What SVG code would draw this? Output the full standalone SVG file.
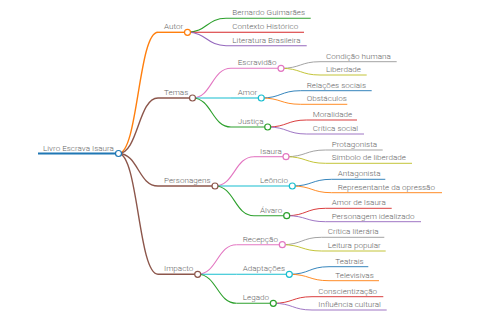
<svg xmlns="http://www.w3.org/2000/svg" width="480" height="320" viewBox="0 0 480 320">
<style>
text{font-family:Roboto,"Liberation Sans",sans-serif;font-size:8.1px;fill:#666;font-weight:300}
path{fill:none}
.l0{stroke-width:1.8}
.l1{stroke-width:1.4}
.l2{stroke-width:1.1}
.l3{stroke-width:0.9}
circle{fill:#fff;stroke-width:1.2}
.blue{stroke:#1f77b4}.orange{stroke:#ff7f0e}.green{stroke:#2ca02c}.red{stroke:#d62728}.purple{stroke:#9467bd}.brown{stroke:#8c564b}.pink{stroke:#e377c2}.gray{stroke:#999}.olive{stroke:#bcbd22}.cyan{stroke:#17becf}
</style>
<rect width="480" height="320" fill="#fff"/>
<g id="connectors">
<path class="l1 orange" d="M118.5 153.5C138.25 153.5 138.25 32.3 158 32.3"/>
<path class="l1 brown" d="M118.5 153.5C138.25 153.5 138.25 98 158 98"/>
<path class="l1 brown" d="M118.5 153.5C138.25 153.5 138.25 186 158 186"/>
<path class="l1 brown" d="M118.5 153.5C138.25 153.5 138.25 274.3 158 274.3"/>
<path class="l2 green" d="M187.5 32.3C206.75 32.3 206.75 18.3 226 18.3"/>
<path class="l2 red" d="M187.5 32.3C206.75 32.3 206.75 32.3 226 32.3"/>
<path class="l2 purple" d="M187.5 32.3C206.75 32.3 206.75 45.7 226 45.7"/>
<path class="l2 pink" d="M192.5 98C211.75 98 211.75 68.3 231 68.3"/>
<path class="l2 cyan" d="M192.5 98C211.75 98 211.75 98 231 98"/>
<path class="l2 green" d="M192.5 98C211.75 98 211.75 127 231 127"/>
<path class="l3 gray" d="M281 68.3C300.5 68.3 300.5 61.7 320 61.7"/>
<path class="l3 olive" d="M281 68.3C300.5 68.3 300.5 75 320 75"/>
<path class="l3 blue" d="M261.3 98C280.9 98 280.9 90.7 300.5 90.7"/>
<path class="l3 orange" d="M261.3 98C280.9 98 280.9 104.3 300.5 104.3"/>
<path class="l3 red" d="M267.7 127C287.1 127 287.1 120 306.5 120"/>
<path class="l3 purple" d="M267.7 127C287.1 127 287.1 134 306.5 134"/>
<path class="l2 pink" d="M215 186C234.5 186 234.5 156.7 254 156.7"/>
<path class="l2 cyan" d="M215 186C234.5 186 234.5 186 254 186"/>
<path class="l2 green" d="M215 186C234.5 186 234.5 215.7 254 215.7"/>
<path class="l3 gray" d="M286 156.7C305.75 156.7 305.75 150 325.5 150"/>
<path class="l3 olive" d="M286 156.7C305.75 156.7 305.75 163.3 325.5 163.3"/>
<path class="l3 blue" d="M292.3 186C311.9 186 311.9 179.3 331.5 179.3"/>
<path class="l3 orange" d="M292.3 186C311.9 186 311.9 192.7 331.5 192.7"/>
<path class="l3 red" d="M286.7 215.7C306.1 215.7 306.1 208.3 325.5 208.3"/>
<path class="l3 purple" d="M286.7 215.7C306.1 215.7 306.1 221.7 325.5 221.7"/>
<path class="l2 pink" d="M197.7 274.3C217.1 274.3 217.1 244.7 236.5 244.7"/>
<path class="l2 cyan" d="M197.7 274.3C217.1 274.3 217.1 274.3 236.5 274.3"/>
<path class="l2 green" d="M197.7 274.3C217.1 274.3 217.1 303.3 236.5 303.3"/>
<path class="l3 gray" d="M282.3 244.7C301.9 244.7 301.9 237.3 321.5 237.3"/>
<path class="l3 olive" d="M282.3 244.7C301.9 244.7 301.9 251 321.5 251"/>
<path class="l3 blue" d="M289.3 274.3C309.15 274.3 309.15 266.7 329 266.7"/>
<path class="l3 orange" d="M289.3 274.3C309.15 274.3 309.15 280.7 329 280.7"/>
<path class="l3 red" d="M273.3 303.3C292.65 303.3 292.65 296.7 312 296.7"/>
<path class="l3 purple" d="M273.3 303.3C292.65 303.3 292.65 310 312 310"/>
</g>
<g id="root"><path class="l0 blue" d="M38 153.5H118.5"/><circle class="blue" cx="118.5" cy="153.5" r="3"/><text x="43" y="150.5">Livro Escrava Isaura</text></g>
<g id="autor"><path class="l1 orange" d="M158 32.3H187.5"/><circle class="orange" cx="187.5" cy="32.3" r="3"/><text x="164" y="29.3">Autor</text></g>
<g id="bernardo"><path class="l2 green" d="M226 18.3H310.7"/><text x="232.3" y="15.3">Bernardo Guimarães</text></g>
<g id="contexto"><path class="l2 red" d="M226 32.3H304"/><text x="232.3" y="29.3">Contexto Histórico</text></g>
<g id="literatura"><path class="l2 purple" d="M226 45.7H306.7"/><text x="232.3" y="42.7">Literatura Brasileira</text></g>
<g id="temas"><path class="l1 brown" d="M158 98H192.5"/><circle class="brown" cx="192.5" cy="98" r="3"/><text x="164" y="95">Temas</text></g>
<g id="escravidao"><path class="l2 pink" d="M231 68.3H281"/><circle class="pink" cx="281" cy="68.3" r="3"/><text x="237.7" y="65.3">Escravidão</text></g>
<g id="condicao"><path class="l3 gray" d="M320 61.7H396.7"/><text x="326" y="58.7">Condição humana</text></g>
<g id="liberdade"><path class="l3 olive" d="M320 75H366.7"/><text x="326" y="72">Liberdade</text></g>
<g id="amor"><path class="l2 cyan" d="M231 98H261.3"/><circle class="cyan" cx="261.3" cy="98" r="3"/><text x="237.7" y="95">Amor</text></g>
<g id="relacoes"><path class="l3 blue" d="M300.5 90.7H371.7"/><text x="306.7" y="87.7">Relações sociais</text></g>
<g id="obstaculos"><path class="l3 orange" d="M300.5 104.3H347.3"/><text x="306.7" y="101.3">Obstáculos</text></g>
<g id="justica"><path class="l2 green" d="M231 127H267.7"/><circle class="green" cx="267.7" cy="127" r="3"/><text x="237.7" y="124">Justiça</text></g>
<g id="moralidade"><path class="l3 red" d="M306.5 120H357"/><text x="312.7" y="117">Moralidade</text></g>
<g id="critica-social"><path class="l3 purple" d="M306.5 134H364"/><text x="312.7" y="131">Crítica social</text></g>
<g id="personagens"><path class="l1 brown" d="M158 186H215"/><circle class="brown" cx="215" cy="186" r="3"/><text x="164" y="183">Personagens</text></g>
<g id="isaura"><path class="l2 pink" d="M254 156.7H286"/><circle class="pink" cx="286" cy="156.7" r="3"/><text x="260" y="153.7">Isaura</text></g>
<g id="protagonista"><path class="l3 gray" d="M325.5 150H382.7"/><text x="331.7" y="147">Protagonista</text></g>
<g id="simbolo"><path class="l3 olive" d="M325.5 163.3H412"/><text x="331.7" y="160.3">Símbolo de liberdade</text></g>
<g id="leoncio"><path class="l2 cyan" d="M254 186H292.3"/><circle class="cyan" cx="292.3" cy="186" r="3"/><text x="260" y="183">Leôncio</text></g>
<g id="antagonista"><path class="l3 blue" d="M331.5 179.3H385.3"/><text x="337.7" y="176.3">Antagonista</text></g>
<g id="representante"><path class="l3 orange" d="M331.5 192.7H442"/><text x="337.7" y="189.7">Representante da opressão</text></g>
<g id="alvaro"><path class="l2 green" d="M254 215.7H286.7"/><circle class="green" cx="286.7" cy="215.7" r="3"/><text x="260" y="212.7">Álvaro</text></g>
<g id="amor-isaura"><path class="l3 red" d="M325.5 208.3H391.7"/><text x="331.7" y="205.3">Amor de Isaura</text></g>
<g id="idealizado"><path class="l3 purple" d="M325.5 221.7H421"/><text x="331.7" y="218.7">Personagem idealizado</text></g>
<g id="impacto"><path class="l1 brown" d="M158 274.3H197.7"/><circle class="brown" cx="197.7" cy="274.3" r="3"/><text x="164" y="271.3">Impacto</text></g>
<g id="recepcao"><path class="l2 pink" d="M236.5 244.7H282.3"/><circle class="pink" cx="282.3" cy="244.7" r="3"/><text x="242.7" y="241.7">Recepção</text></g>
<g id="critica-literaria"><path class="l3 gray" d="M321.5 237.3H384.3"/><text x="327.7" y="234.3">Crítica literária</text></g>
<g id="leitura"><path class="l3 olive" d="M321.5 251H385.7"/><text x="327.7" y="248">Leitura popular</text></g>
<g id="adaptacoes"><path class="l2 cyan" d="M236.5 274.3H289.3"/><circle class="cyan" cx="289.3" cy="274.3" r="3"/><text x="242.7" y="271.3">Adaptações</text></g>
<g id="teatrais"><path class="l3 blue" d="M329 266.7H368.3"/><text x="335.3" y="263.7">Teatrais</text></g>
<g id="televisivas"><path class="l3 orange" d="M329 280.7H379"/><text x="335.3" y="277.7">Televisivas</text></g>
<g id="legado"><path class="l2 green" d="M236.5 303.3H273.3"/><circle class="green" cx="273.3" cy="303.3" r="3"/><text x="242.7" y="300.3">Legado</text></g>
<g id="conscientizacao"><path class="l3 red" d="M312 296.7H383.3"/><text x="318.3" y="293.7">Conscientização</text></g>
<g id="influencia"><path class="l3 purple" d="M312 310H386.7"/><text x="318.3" y="307">Influência cultural</text></g>
</svg>
